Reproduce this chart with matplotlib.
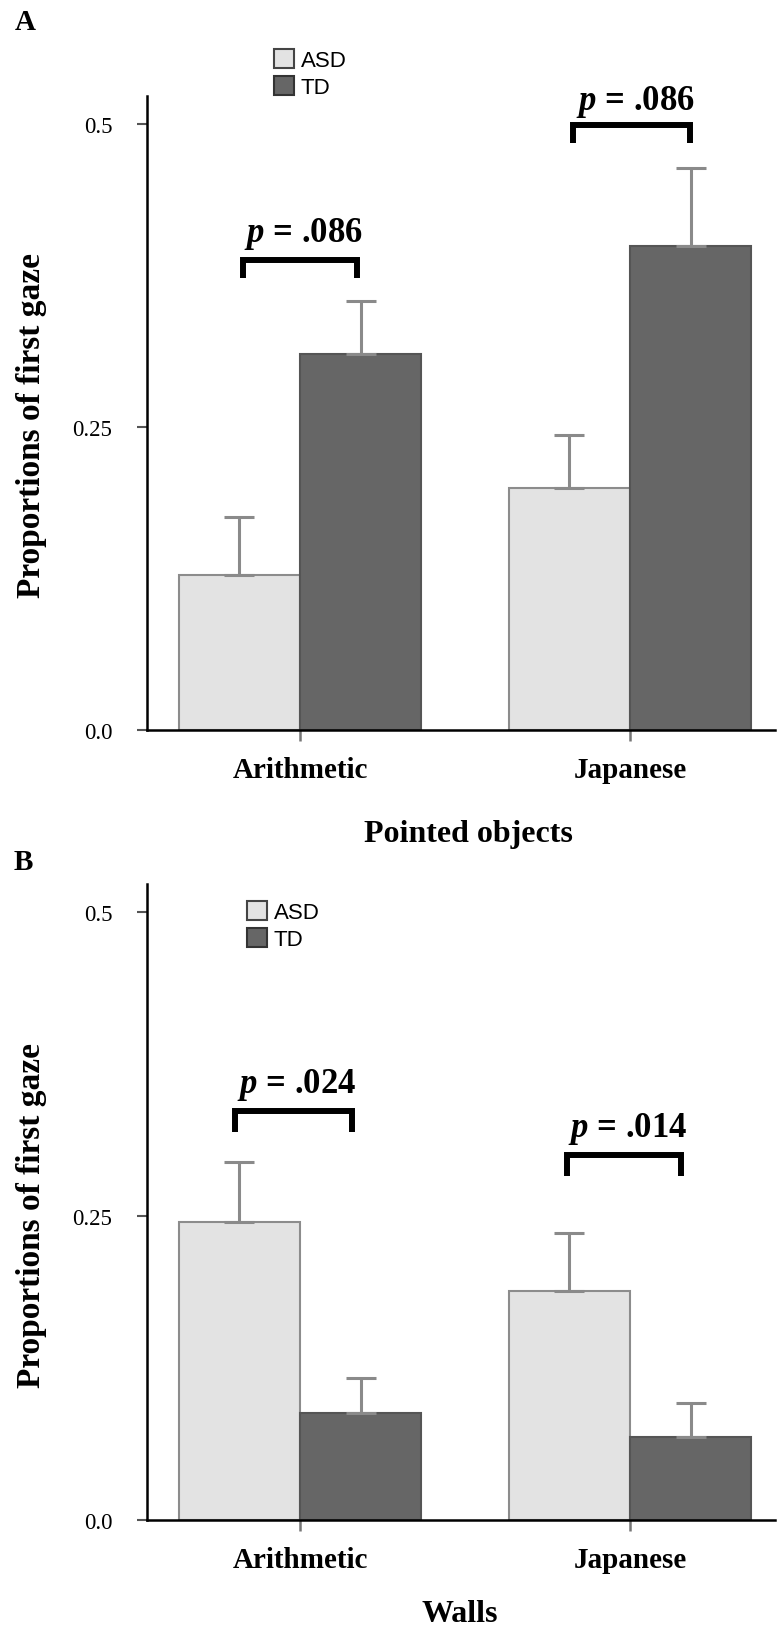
import matplotlib
matplotlib.use("Agg")
import matplotlib.pyplot as plt
from matplotlib.patches import Patch
import numpy as np

plt.rcParams['font.family'] = ['Liberation Serif', 'DejaVu Serif']
plt.rcParams['mathtext.fontset'] = 'custom'
plt.rcParams['mathtext.it'] = 'Liberation Serif:italic:bold'
plt.rcParams['mathtext.rm'] = 'Liberation Serif:bold'

# ---- data ----
categories = ["Arithmetic", "Japanese"]
groups = ["ASD", "TD"]

# Panel A: Pointed objects
asd_A = [0.128, 0.200]
asd_A_se = [0.048, 0.043]
td_A = [0.310, 0.399]
td_A_se = [0.044, 0.065]
pvals_A = [".086", ".086"]

# Panel B: Walls
asd_B = [0.245, 0.188]
asd_B_se = [0.049, 0.048]
td_B = [0.088, 0.068]
td_B_se = [0.029, 0.028]
pvals_B = [".024", ".014"]

yticks = [0.0, 0.25, 0.5]
ytick_labels = ["0.0", "0.25", "0.5"]

W, H = 777, 1631
fig = plt.figure(figsize=(W / 100, H / 100), dpi=100)

ASD_C = '#e3e3e3'
TD_C = '#666666'
ERR_C = '#8a8a8a'

def px2fig(x, y):
    return x / W, 1 - y / H

def make_panel(bottom_px, top_px, asd, asd_se, td, td_se, pvals, brackets, ptext_y,
               xlabel, xlabel_pos, letter, letter_pos, ylab_y, legend_pos):
    left_px, right_px = 147, 775
    ax = fig.add_axes([left_px / W, 1 - bottom_px / H, (right_px - left_px) / W,
                       (bottom_px - top_px) / H])
    x = np.arange(len(categories))
    bw = 0.368
    ax.bar(x - bw / 2, asd, width=bw, color=ASD_C, edgecolor='#8c8c8c', linewidth=1.5, zorder=2)
    ax.bar(x + bw / 2, td, width=bw, color=TD_C, edgecolor='#555555', linewidth=1.5, zorder=2)
    ax.errorbar(x - bw / 2, asd, yerr=[np.zeros(len(asd)), asd_se], fmt='none',
                ecolor=ERR_C, elinewidth=2.2, capsize=11, capthick=2.2, zorder=3)
    ax.errorbar(x + bw / 2, td, yerr=[np.zeros(len(td)), td_se], fmt='none',
                ecolor=ERR_C, elinewidth=2.2, capsize=11, capthick=2.2, zorder=3)
    ax.set_xlim(-0.4636, 1.4394)
    ax.set_ylim(0, 0.523)
    for s in ['top', 'right']:
        ax.spines[s].set_visible(False)
    for s in ['left', 'bottom']:
        ax.spines[s].set_linewidth(1.8)
        ax.spines[s].set_color('black')
    ax.set_xticks(x)
    ax.set_xticklabels(categories, fontsize=21, fontweight='bold')
    ax.tick_params(axis='x', length=8, width=1.8, color='#777777', pad=11)
    ax.set_yticks(yticks)
    ax.set_yticklabels(ytick_labels, fontsize=16.5)
    ax.tick_params(axis='y', length=7, width=1.5, color='#555555', pad=18)
    # significance brackets
    for i, ((off, half, ytop, ybot), ptxt, ty) in enumerate(zip(brackets, pvals, ptext_y)):
        cx = x[i] + off
        ax.plot([cx - half, cx - half, cx + half, cx + half], [ybot, ytop, ytop, ybot],
                color='black', lw=4.3, solid_joinstyle='miter', solid_capstyle='butt',
                zorder=4)
        ax.text(cx + 0.01, ty, r'$p$' + ' = ' + ptxt, ha='center',
                va='baseline', fontsize=25, fontweight='bold', zorder=5)
    fx, fy = px2fig(*xlabel_pos)
    fig.text(fx, fy, xlabel, ha='center', va='center', fontsize=23, fontweight='bold')
    fx, fy = px2fig(*letter_pos)
    fig.text(fx, fy, letter, ha='center', va='center', fontsize=21, fontweight='bold')
    fx, fy = px2fig(32, ylab_y)
    fig.text(fx, fy, "Proportions of first gaze", ha='center', va='center',
             rotation=90, fontsize=24, fontweight='bold')
    handles = [Patch(facecolor=ASD_C, edgecolor='#444444', linewidth=1.5),
               Patch(facecolor=TD_C, edgecolor='#333333', linewidth=1.5)]
    lx, ly = px2fig(*legend_pos)
    ax.legend(handles, groups, loc='upper left', bbox_to_anchor=(lx, ly),
              bbox_transform=fig.transFigure, frameon=False, borderpad=0,
              borderaxespad=0, handlelength=0.9, handleheight=0.95,
              handletextpad=0.3, labelspacing=0.22,
              prop={'family': 'Liberation Sans', 'size': 16})
    return ax

make_panel(731, 97, asd_A, asd_A_se, td_A, td_A_se, pvals_A,
           brackets=[(0.0, 0.173, 0.388, 0.373), (0.005, 0.177, 0.499, 0.484)],
           ptext_y=[0.403, 0.512],
           xlabel="Pointed objects", xlabel_pos=(468, 835),
           letter="A", letter_pos=(25, 23), ylab_y=425, legend_pos=(274, 50))

make_panel(1521, 885, asd_B, asd_B_se, td_B, td_B_se, pvals_B,
           brackets=[(-0.02, 0.177, 0.336, 0.319), (-0.018, 0.173, 0.300, 0.283)],
           ptext_y=[0.352, 0.316],
           xlabel="Walls", xlabel_pos=(460, 1615),
           letter="B", letter_pos=(23, 863), ylab_y=1215, legend_pos=(247, 902))

fig.savefig("out.png", dpi=100)
